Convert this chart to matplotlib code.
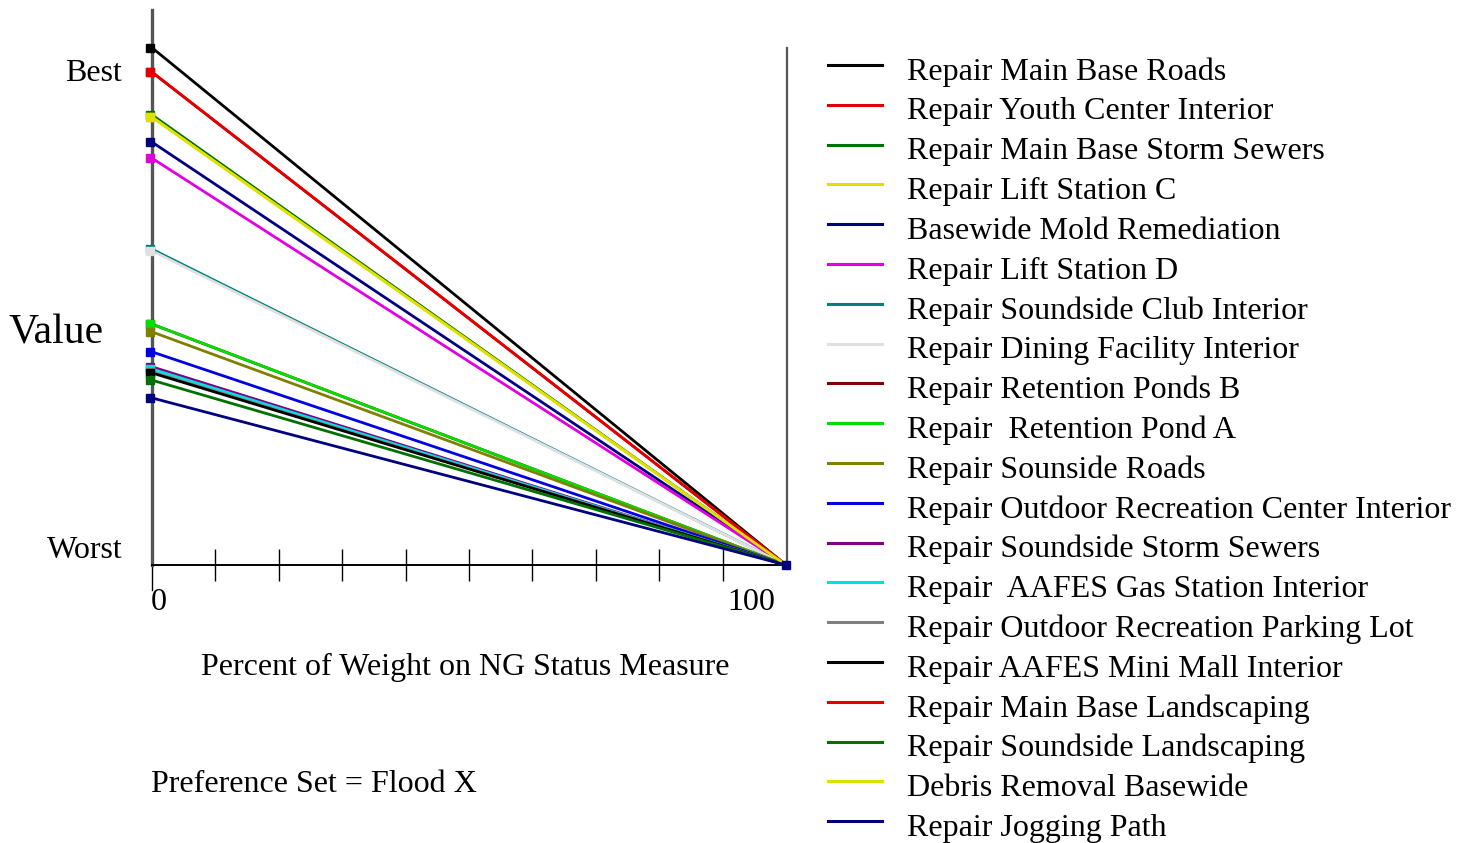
import matplotlib.pyplot as plt
from matplotlib.lines import Line2D

plt.rcParams['font.family'] = ['Liberation Serif', 'DejaVu Serif']

# alternatives, legend order
names = ['Repair Main Base Roads', 'Repair Youth Center Interior', 'Repair Main Base Storm Sewers',
         'Repair Lift Station C', 'Basewide Mold Remediation', 'Repair Lift Station D',
         'Repair Soundside Club Interior', 'Repair Dining Facility Interior', 'Repair Retention Ponds B',
         'Repair  Retention Pond A', 'Repair Sounside Roads', 'Repair Outdoor Recreation Center Interior',
         'Repair Soundside Storm Sewers', 'Repair  AAFES Gas Station Interior',
         'Repair Outdoor Recreation Parking Lot', 'Repair AAFES Mini Mall Interior',
         'Repair Main Base Landscaping', 'Repair Soundside Landscaping', 'Debris Removal Basewide',
         'Repair Jogging Path']
colors = ['#000000', '#e00000', '#007000', '#e0e000', '#000080', '#e000e0', '#008080', '#e0e0e0',
          '#800000', '#00e000', '#808000', '#0000e0', '#800080', '#00e0e0', '#808080', '#000000',
          '#e00000', '#007000', '#e0e000', '#000080']
# value at 0% weight (0 = worst, 100 = top of axis)
start_vals = [93.2, 88.8, 81.1, 80.7, 76.2, 73.3, 56.9, 56.6, 43.4, 43.4,
              42.0, 38.4, 35.7, 35.3, 34.8, 34.6, 88.8, 33.3, 80.7, 30.1]
end_vals = [0.0] * 20
weights = [0, 100]

fig = plt.figure(figsize=(14.7, 8.43), dpi=100)
W, H = 1470, 843
x0, x1, yb, yt = 152, 786, 565, 10
ax = fig.add_axes([x0 / W, 1 - yb / H, (x1 - x0) / W, (yb - yt) / H])
ax.set_xlim(0, 100)
ax.set_ylim(0, 100)
ax.set_facecolor('none')
for s in ['top', 'right']:
    ax.spines[s].set_visible(False)
ax.spines['left'].set_color('#555555')
ax.spines['left'].set_linewidth(2.4)
ax.spines['bottom'].set_linewidth(1.4)
ax.set_yticks([])
ax.set_xticks(range(10, 100, 10))
ax.set_xticklabels([])
ax.tick_params(axis='x', direction='inout', length=23, width=1, color='black')

# right border line at 100
ax.plot([100.1, 100.1], [0, 93.2], color='#555555', lw=1.6, clip_on=False)
ax.plot([0, 0], [0, -4.5], color='black', lw=1, clip_on=False)

for v0, v1, c in zip(start_vals, end_vals, colors):
    ax.plot(weights, [v0, v1], color=c, lw=2.0, clip_on=False, zorder=3)
    ax.plot([-0.3], [v0], marker='s', ms=6, color=c, clip_on=False, zorder=4)
ax.plot([100], [0], marker='s', ms=6, color=colors[-1], clip_on=False, zorder=4)

fs = 23
ax.text(1, -4.2, '0', fontsize=fs, ha='center', va='top')
ax.text(94.5, -4.2, '100', fontsize=fs, ha='center', va='top')
ax.text(-4.7, 88.6, 'Best', fontsize=fs, ha='right', va='center')
ax.text(-4.7, 2.7, 'Worst', fontsize=fs, ha='right', va='center')
fig.text(56 / W, 1 - 333 / H, 'Value', fontsize=30, ha='center', va='center')
fig.text(465 / W, 1 - 667 / H, 'Percent of Weight on NG Status Measure', fontsize=fs,
         ha='center', va='center')
fig.text(151 / W, 1 - 785 / H, 'Preference Set = Flood X', fontsize=fs, ha='left', va='center')

# legend
for i, (n, c) in enumerate(zip(names, colors)):
    y = 1 - (65 + i * 39.8) / H
    fig.add_artist(Line2D([828 / W, 882 / W], [y, y], color=c, lw=2.2))
    fig.text(907 / W, y - 7 / H, n, fontsize=fs, ha='left', va='center')

fig.savefig('out.png', dpi=100)
